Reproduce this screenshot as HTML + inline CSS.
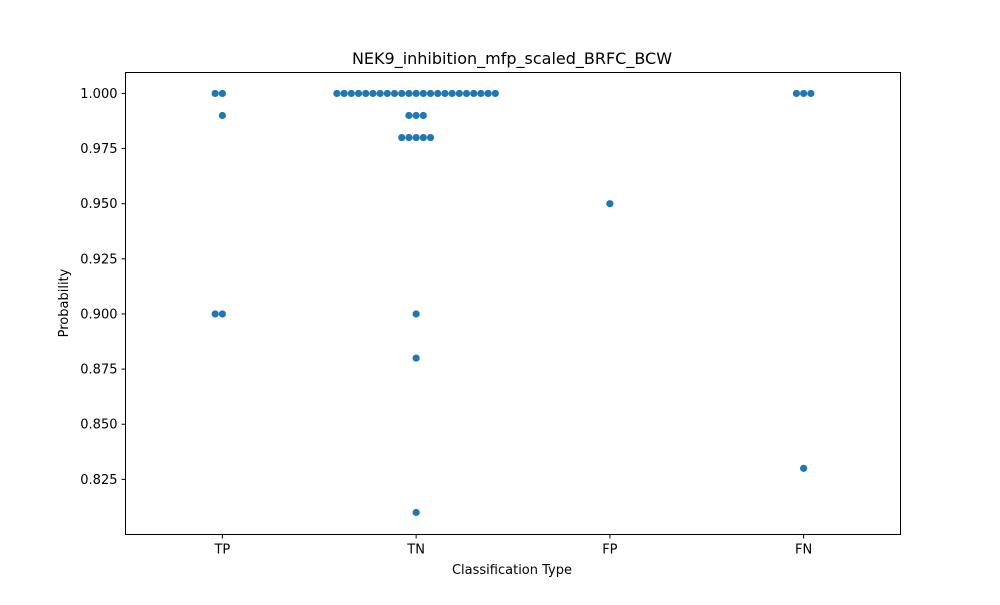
<!DOCTYPE html>
<html><head><meta charset="utf-8"><style>
body{margin:0;background:#fff;font-family:"Liberation Sans","DejaVu Sans",sans-serif;}
svg text{font-family:"DejaVu Sans","Liberation Sans",sans-serif;fill:#000}
</style></head><body>
<svg id="chart" width="1000" height="600" xmlns="http://www.w3.org/2000/svg">
<rect width="1000" height="600" fill="#fff"/>
<text x="512" y="64" font-size="16" text-anchor="middle">NEK9_inhibition_mfp_scaled_BRFC_BCW</text>
<g id="axes"></g>
<g id="points"></g>
<rect x="125.5" y="72.5" width="775" height="462" fill="none" stroke="#000" stroke-width="1"/>
<text x="512" y="574" font-size="13" text-anchor="middle">Classification Type</text>
<text x="68" y="303" font-size="13" text-anchor="middle" transform="rotate(-90 68 303)">Probability</text>
</svg>
<script>
const categories = ["TP","TN","FP","FN"];
const tpValues = [1,1,0.99,0.9,0.9];
const tnValues = [1,1,1,1,1,1,1,1,1,1,1,1,1,1,1,1,1,1,1,1,1,1,1,0.99,0.99,0.99,0.98,0.98,0.98,0.98,0.98,0.9,0.88,0.81];
const fpValues = [0.95];
const fnValues = [1,1,1,0.83];
const yTicks = [0.825,0.85,0.875,0.9,0.925,0.95,0.975,1.0];
const seriesValues = [tpValues,tnValues,fpValues,fnValues];

const NS="http://www.w3.org/2000/svg";
const L=125.5,R=900.5,T=72.5,B=534.5,yMin=0.8,yMax=1.0095;
function y(v){return B-(v-yMin)/(yMax-yMin)*(B-T);}
function x(i){return L+(R-L)*(i+0.5)/categories.length;}
const axes=document.getElementById('axes'),pts=document.getElementById('points');
yTicks.forEach(t=>{
  const l=document.createElementNS(NS,'line');
  l.setAttribute('x1',L-4);l.setAttribute('x2',L);l.setAttribute('y1',y(t));l.setAttribute('y2',y(t));l.setAttribute('stroke','#000');
  
  
  axes.appendChild(l);
  const tx=document.createElementNS(NS,'text');
  tx.setAttribute('x',L-8);tx.setAttribute('y',y(t)+4.5);tx.setAttribute('font-size','13');tx.setAttribute('text-anchor','end');
  tx.textContent=t.toFixed(3);
  
  
  axes.appendChild(tx);
});
categories.forEach((c,i)=>{
  const l=document.createElementNS(NS,'line');
  l.setAttribute('x1',x(i));l.setAttribute('x2',x(i));l.setAttribute('y1',B);l.setAttribute('y2',B+4);l.setAttribute('stroke','#000');
  
  
  axes.appendChild(l);
  const tx=document.createElementNS(NS,'text');
  tx.setAttribute('x',x(i));tx.setAttribute('y',B+19);tx.setAttribute('font-size','13');tx.setAttribute('text-anchor','middle');
  tx.textContent=c;
  
  
  axes.appendChild(tx);
});
const d=7.2;
seriesValues.forEach((vals,i)=>{
  const counts={};
  vals.forEach(v=>{
    const k=v.toFixed(4);const n=counts[k]||0;counts[k]=n+1;
    const off=(n===0)?0:(n%2===1?-1:1)*Math.ceil(n/2)*d;
    const cc=document.createElementNS(NS,'circle');
    cc.setAttribute('cx',x(i)+off);cc.setAttribute('cy',y(v));cc.setAttribute('r','3.6');cc.setAttribute('fill','#1f77b4');
    
    
    pts.appendChild(cc);
  });
});
</script>
</body></html>
